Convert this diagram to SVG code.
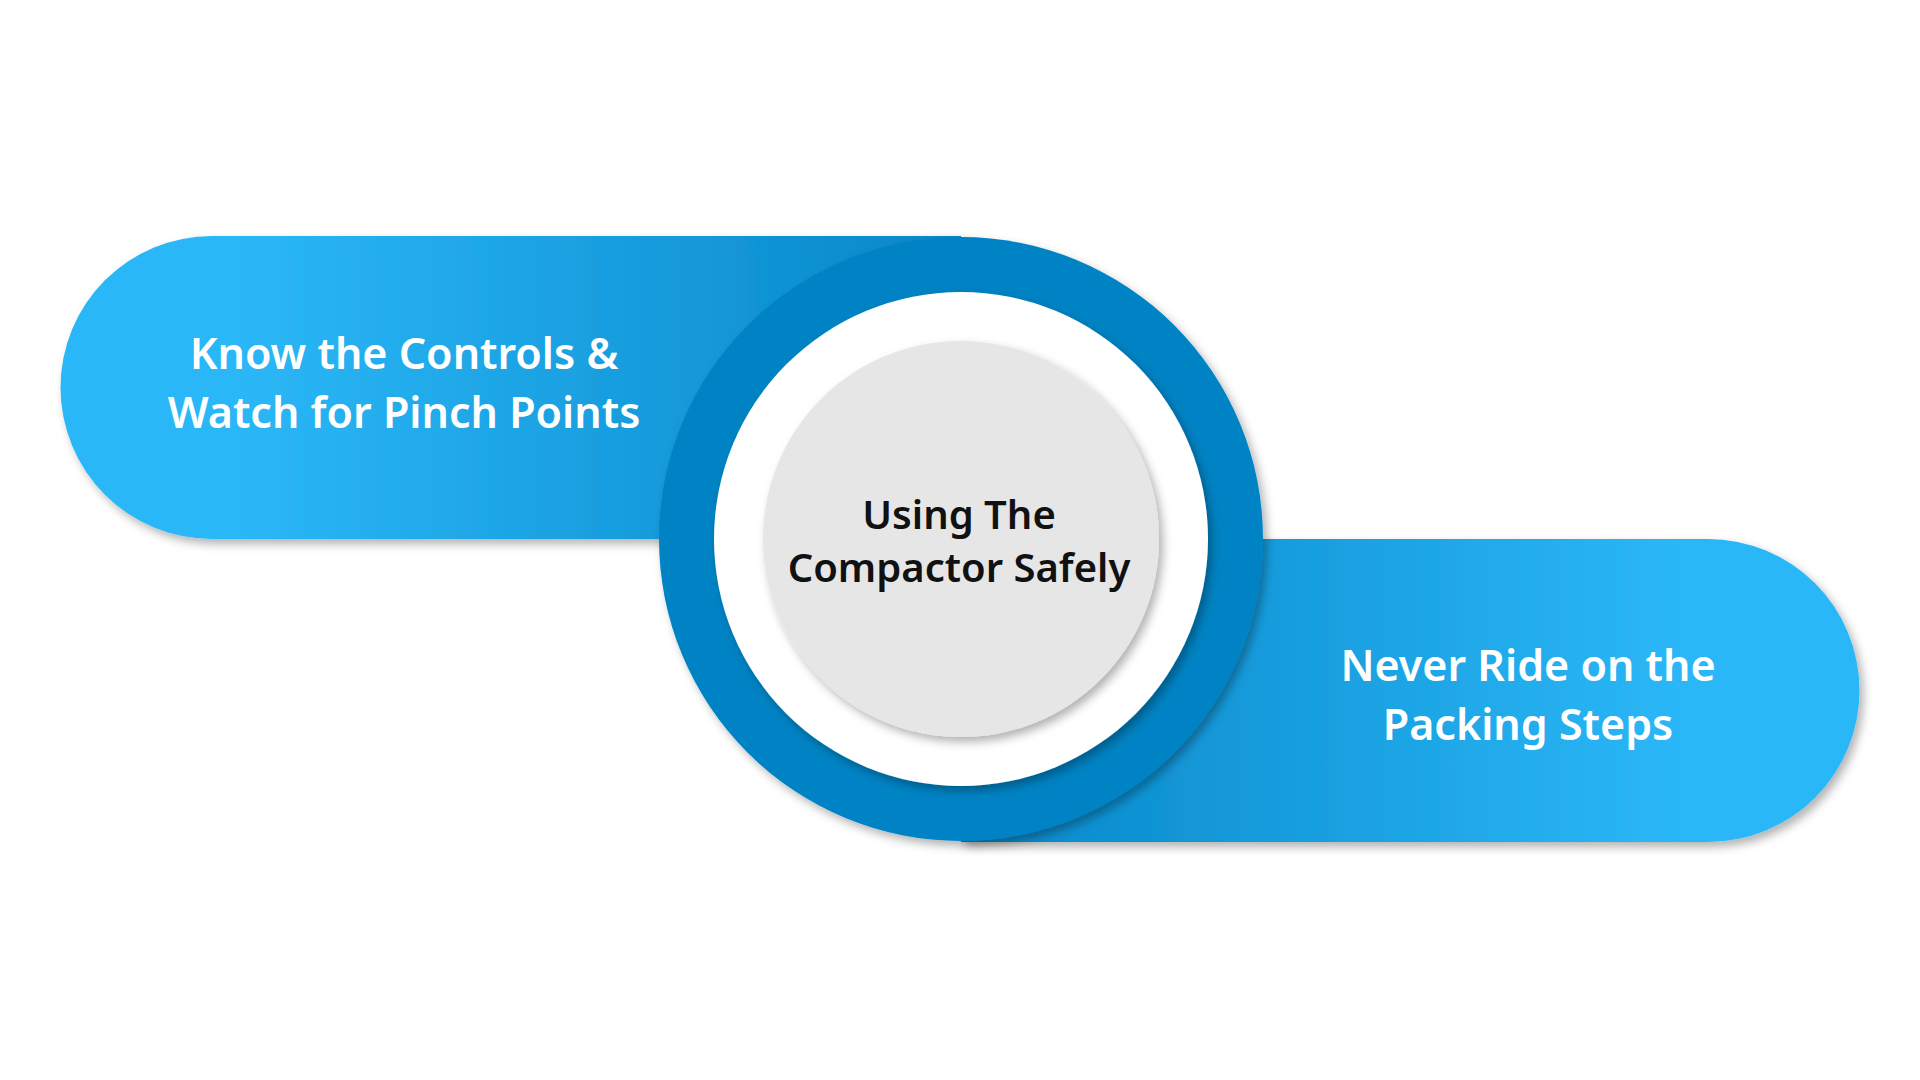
<svg xmlns="http://www.w3.org/2000/svg" width="1920" height="1080" viewBox="0 0 1920 1080">
<defs>
<linearGradient id="gl" x1="0" y1="0" x2="1" y2="0"><stop offset="0.2" stop-color="#2bb7f7"/><stop offset="1" stop-color="#0787c8"/></linearGradient>
<linearGradient id="gr" x1="0" y1="0" x2="1" y2="0"><stop offset="0" stop-color="#0787c8"/><stop offset="0.8" stop-color="#2bb7f7"/></linearGradient>
<filter id="sh" x="-10%" y="-10%" width="120%" height="130%"><feDropShadow dx="4" dy="5" stdDeviation="5" flood-color="#000" flood-opacity="0.3"/></filter>
<style>
.t{font-family:"Noto Sans","Open Sans",sans-serif;font-weight:600;text-anchor:middle}
.w{fill:#fff;font-size:43px}
.k{fill:#111;font-size:40px}
</style>
</defs>
<g id="left-pill">
<path d="M212,236 H961 V539 H212 A151.5,151.5 0 0 1 212,236 Z" fill="url(#gl)" filter="url(#sh)"/>
<text class="t w" x="404" y="369">Know the Controls &amp;</text>
<text class="t w" x="404" y="428">Watch for Pinch Points</text>
</g>
<g id="right-pill">
<path d="M961,539 H1708 A151.5,151.5 0 0 1 1708,842 H961 Z" fill="url(#gr)" filter="url(#sh)"/>
<text class="t w" x="1528" y="681">Never Ride on the</text>
<text class="t w" x="1528" y="740">Packing Steps</text>
</g>
<g id="center">
<circle cx="961" cy="539" r="302" fill="#0383c4" filter="url(#sh)"/>
<circle cx="961" cy="539" r="247" fill="#fff" filter="url(#sh)"/>
<circle cx="961" cy="539" r="198" fill="#e6e6e6" filter="url(#sh)"/>
<text class="t k" x="959" y="529">Using The</text>
<text class="t k" x="959" y="582">Compactor Safely</text>
</g>
<g id="connectors"/>
</svg>
